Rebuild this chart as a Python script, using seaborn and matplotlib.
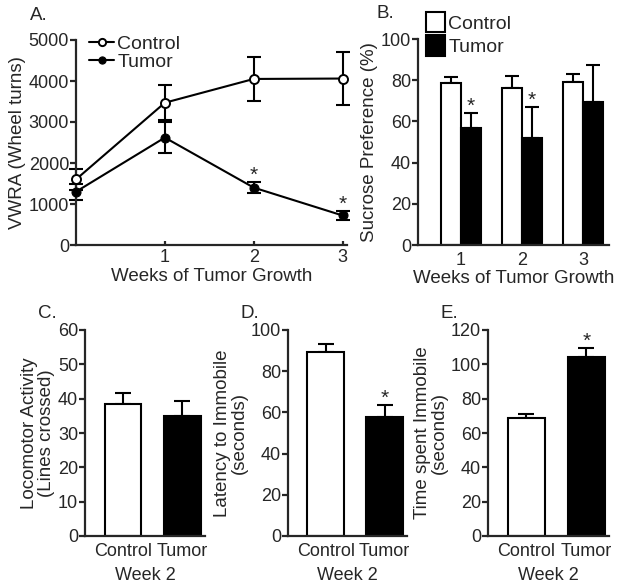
import matplotlib
matplotlib.use("Agg")
import matplotlib.pyplot as plt
import seaborn as sns
import pandas as pd
import numpy as np

# panel A - voluntary wheel running
weeks = [0, 1, 2, 3]
vwra_control = [1600, 3470, 4050, 4060]
vwra_control_err = [250, 430, 540, 650]
vwra_tumor = [1300, 2620, 1400, 720]
vwra_tumor_err = [200, 380, 130, 100]

# panel B - sucrose preference
sp_weeks = ["1", "2", "3"]
sp_control = [78.5, 76, 79]
sp_control_err = [3, 6, 4]
sp_tumor = [57, 52, 69.5]
sp_tumor_err = [7, 15, 18]

# panels C-E, week 2
groups = ["Control", "Tumor"]
loco = [38.5, 35]
loco_err = [3.2, 4.2]
latency = [89.5, 58]
latency_err = [3.5, 5.5]
immobile = [68.5, 104.5]
immobile_err = [2.5, 5]

sns.set_style("ticks")
plt.rcParams["font.family"] = ["Liberation Sans", "DejaVu Sans"]
plt.rcParams["font.size"] = 13
plt.rcParams["axes.linewidth"] = 1.6
plt.rcParams["xtick.major.width"] = 1.6
plt.rcParams["ytick.major.width"] = 1.6
plt.rcParams["ytick.major.size"] = 4
plt.rcParams["xtick.major.size"] = 4

W, H = 621, 588
fig = plt.figure(figsize=(W / 100, H / 100), dpi=100)

TICK = 13
LAB = 13.5


def add_ax(l, r, t, b):
    return fig.add_axes([l / W, 1 - b / H, (r - l) / W, (b - t) / H])


def style(ax):
    sns.despine(ax=ax)
    ax.tick_params(axis="y", labelsize=TICK, pad=1)
    ax.tick_params(axis="x", labelsize=TICK)
    ax.set_xlabel("")


# ---------- A ----------
axA = add_ax(76, 347, 40, 245)
dfA = pd.DataFrame({"week": weeks * 2,
                    "vwra": vwra_control + vwra_tumor,
                    "group": ["Control"] * 4 + ["Tumor"] * 4})
sns.lineplot(data=dfA[dfA.group == "Control"], x="week", y="vwra", ax=axA,
             color="black", lw=1.5, marker="o", markersize=6.5, markerfacecolor="white",
             markeredgecolor="black", markeredgewidth=1.4, label="Control", clip_on=False, zorder=4)
sns.lineplot(data=dfA[dfA.group == "Tumor"], x="week", y="vwra", ax=axA,
             color="black", lw=1.5, marker="o", markersize=6.5, markerfacecolor="black",
             markeredgecolor="black", label="Tumor", clip_on=False, zorder=4)
axA.errorbar(weeks, vwra_control, yerr=vwra_control_err, fmt="none", ecolor="black",
             elinewidth=1.5, capsize=5, capthick=1.5, clip_on=False)
axA.errorbar(weeks, vwra_tumor, yerr=vwra_tumor_err, fmt="none", ecolor="black",
             elinewidth=1.5, capsize=5, capthick=1.5, clip_on=False)
for i in [2, 3]:
    axA.annotate("*", (weeks[i], vwra_tumor[i] + vwra_tumor_err[i]), xytext=(0, -2),
                 textcoords="offset points", ha="center", va="bottom", fontsize=15)
axA.set_xlim(0, 3.05)
axA.set_ylim(0, 5000)
axA.set_xticks([1, 2, 3])
axA.set_yticks(range(0, 5001, 1000))
axA.tick_params(axis="x", direction="in", length=3, pad=3)
style(axA)
axA.set_xlabel("Weeks of Tumor Growth", fontsize=LAB, labelpad=1)
axA.set_ylabel("VWRA (Wheel turns)", fontsize=LAB, labelpad=2)
axA.legend(loc="upper left", bbox_to_anchor=(0.02, 1.06), frameon=False, fontsize=14,
           handlelength=1.3, handletextpad=0.15, borderaxespad=0, labelspacing=0.0,
           markerscale=0.8)

# ---------- B ----------
axB = add_ax(418, 609, 39, 245)
dfB = pd.DataFrame({"week": sp_weeks * 2,
                    "pref": sp_control + sp_tumor,
                    "group": ["Control"] * 3 + ["Tumor"] * 3})
sns.barplot(data=dfB, x="week", y="pref", hue="group", ax=axB, errorbar=None,
            palette={"Control": "white", "Tumor": "black"}, edgecolor="black",
            linewidth=1.5, width=0.66, saturation=1)
bars = axB.patches[:6]
xs = [p.get_x() + p.get_width() / 2 for p in bars]
tops = sp_control + sp_tumor
errs = sp_control_err + sp_tumor_err
axB.errorbar(xs, tops, yerr=[[0] * 6, errs], fmt="none", ecolor="black",
             elinewidth=1.5, capsize=5, capthick=1.5, zorder=0)
for i in [0, 1]:
    axB.annotate("*", (xs[3 + i], sp_tumor[i] + sp_tumor_err[i]), xytext=(0, -2),
                 textcoords="offset points", ha="center", va="bottom", fontsize=15)
axB.set_xlim(-0.70, 2.42)
axB.set_ylim(0, 100)
axB.set_yticks(range(0, 101, 20))
axB.tick_params(axis="x", length=0, pad=5)
style(axB)
axB.set_xlabel("Weeks of Tumor Growth", fontsize=LAB, labelpad=1)
axB.set_ylabel("Sucrose Preference (%)", fontsize=LAB, labelpad=2)
axB.legend(loc="upper left", bbox_to_anchor=(0.0, 1.17), frameon=False, fontsize=14,
           handlelength=1.0, handleheight=1.25, handletextpad=0.15, borderaxespad=0,
           labelspacing=0.15)


# ---------- C, D, E ----------
def week2_panel(l, r, vals, errs, ymax, step, ylabel, letter, star):
    ax = add_ax(l, r, 330, 536)
    df = pd.DataFrame({"group": groups, "val": vals})
    sns.barplot(data=df, x="group", y="val", hue="group", ax=ax, errorbar=None,
                palette={"Control": "white", "Tumor": "black"}, edgecolor="black",
                linewidth=1.5, width=0.62, saturation=1, legend=False)
    xs = [p.get_x() + p.get_width() / 2 for p in ax.patches[:2]]
    ax.errorbar(xs, vals, yerr=[[0, 0], errs], fmt="none", ecolor="black",
                elinewidth=1.5, capsize=6, capthick=1.5, zorder=0)
    if star:
        ax.annotate("*", (xs[1], vals[1] + errs[1]), xytext=(0, -2),
                    textcoords="offset points", ha="center", va="bottom", fontsize=15)
    ax.set_ylim(0, ymax)
    ax.set_yticks(range(0, ymax + 1, step))
    ax.set_xlim(-0.64, 1.38)
    ax.tick_params(axis="x", length=0, pad=5)
    style(ax)
    ax.set_xlabel("Week 2", fontsize=TICK, labelpad=5)
    ax.set_ylabel(ylabel, fontsize=LAB, labelpad=2, linespacing=1.0)
    fig.text((l - 47) / W, 1 - 313 / H, letter, fontsize=LAB, ha="left", va="center")
    return ax


week2_panel(85, 205, loco, loco_err, 60, 10, "Locomotor Activity\n(Lines crossed)", "C.", False)
week2_panel(288, 407, latency, latency_err, 100, 20, "Latency to Immobile\n(seconds)", "D.", True)
week2_panel(488, 609, immobile, immobile_err, 120, 20, "Time spent Immobile\n(seconds)", "E.", True)

fig.text(30 / W, 1 - 15 / H, "A.", fontsize=LAB, ha="left", va="center")
fig.text(377 / W, 1 - 14 / H, "B.", fontsize=LAB, ha="left", va="center")

fig.savefig("out.png", dpi=100, facecolor="white")
